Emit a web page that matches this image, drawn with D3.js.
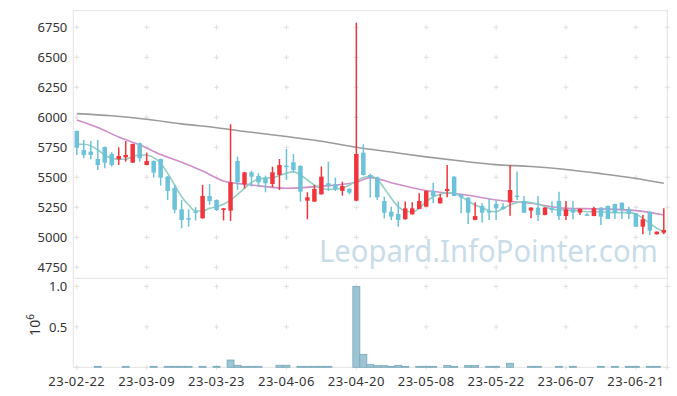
<!DOCTYPE html>
<html>
<head>
<meta charset="utf-8">
<title>Candlestick</title>
<script src="https://d3js.org/d3.v7.min.js"></script>
<style>
  body { margin: 0; background: #fff; }
  svg text { font-family: "Noto Sans", "Open Sans", sans-serif; }
</style>
</head>
<body>
<div id="chart"></div>
<script>
// trading days, 23-02-22 .. 23-06-27
const dates = [
  "23-02-22","23-02-23","23-02-24","23-02-27","23-02-28",
  "23-03-02","23-03-03","23-03-06","23-03-07","23-03-08","23-03-09","23-03-10",
  "23-03-13","23-03-14","23-03-15","23-03-16","23-03-17","23-03-20","23-03-21",
  "23-03-22","23-03-23","23-03-24","23-03-27","23-03-28","23-03-29","23-03-30","23-03-31",
  "23-04-03","23-04-04","23-04-05","23-04-06","23-04-07","23-04-10","23-04-11",
  "23-04-12","23-04-13","23-04-14","23-04-17","23-04-18","23-04-19","23-04-20",
  "23-04-21","23-04-24","23-04-25","23-04-26","23-04-27","23-04-28",
  "23-05-02","23-05-03","23-05-04","23-05-08","23-05-09","23-05-10","23-05-11",
  "23-05-12","23-05-15","23-05-16","23-05-17","23-05-18","23-05-19","23-05-22",
  "23-05-23","23-05-24","23-05-25","23-05-26","23-05-30","23-05-31",
  "23-06-01","23-06-02","23-06-05","23-06-07","23-06-08","23-06-09","23-06-12",
  "23-06-13","23-06-14","23-06-15","23-06-16","23-06-19","23-06-20","23-06-21",
  "23-06-22","23-06-23","23-06-26","23-06-27"
];

const openP = [5886,5727,5714,5652,5752,5694,5650,5667,5622,5783,5602,5636,5652,5505,5410,5233,5160,5215,5158,5344,
  5311,5227,5222,5636,5442,5541,5511,5497,5444,5519,5597,5625,5594,5305,5297,5358,5450,5441,5386,5402,
  5305,5705,5519,5500,5302,5213,5194,5150,5191,5236,5255,5386,5283,5386,5505,5352,5330,5144,5261,5219,
  5277,5255,5291,5347,5302,5222,5247,5186,5241,5302,5177,5236,5205,5191,5177,5247,5261,5277,5288,5236,
  5200,5088,5213,5025,5038];
const highP = [5890,5811,5802,5811,5755,5708,5750,5802,5780,5790,5705,5640,5655,5510,5440,5311,5233,5250,5436,5444,
  5315,5244,5942,5672,5545,5555,5533,5514,5589,5652,5736,5694,5600,5375,5436,5589,5630,5497,5463,5410,
  6788,5775,5530,5505,5338,5255,5297,5297,5291,5367,5390,5455,5361,5602,5508,5361,5333,5291,5283,5325,
  5311,5283,5602,5547,5344,5250,5344,5250,5297,5380,5302,5302,5240,5200,5255,5250,5264,5280,5290,5255,
  5203,5186,5216,5047,5241];
const lowP = [5686,5658,5650,5561,5575,5590,5602,5630,5620,5630,5600,5497,5430,5311,5200,5075,5088,5140,5155,5269,
  5220,5140,5136,5394,5408,5422,5422,5375,5417,5394,5477,5540,5297,5150,5295,5355,5386,5386,5347,5358,
  5300,5515,5330,5311,5158,5144,5088,5148,5189,5234,5253,5283,5281,5333,5342,5200,5111,5142,5122,5144,
  5144,5230,5180,5311,5203,5158,5136,5184,5205,5144,5144,5150,5186,5180,5175,5102,5152,5152,5152,5152,
  5088,5025,5019,5023,5025];
const closeP = [5747,5686,5686,5602,5622,5602,5677,5686,5777,5658,5636,5539,5497,5386,5230,5144,5152,5208,5344,5302,
  5227,5241,5458,5458,5541,5505,5458,5450,5541,5602,5589,5561,5380,5333,5402,5505,5430,5400,5427,5372,
  5694,5519,5500,5333,5205,5172,5144,5241,5241,5302,5386,5344,5330,5402,5344,5333,5205,5177,5205,5205,
  5241,5236,5394,5341,5205,5247,5186,5247,5227,5177,5233,5205,5236,5183,5241,5172,5152,5205,5233,5194,
  5088,5150,5055,5047,5061];
const volume = [0,0,0,12000,0,0,0,12000,0,0,0,12000,0,12000,12000,12000,12000,0,12000,0,
  12000,0,90000,25000,12000,12000,12000,0,0,25000,25000,0,12000,12000,12000,12000,12000,0,0,0,
  1000000,160000,34000,20000,20000,10000,25000,10000,0,12000,12000,12000,0,22000,10000,0,22000,22000,0,12000,
  12000,0,50000,0,0,12000,12000,0,0,12000,0,12000,0,0,0,12000,0,12000,0,12000,
  12000,0,12000,12000,0];

// short moving average, read at every day
const maShort = [5775,5775,5763,5727,5686,5658,5650,5650,5672,5686,5686,5664,5617,5533,5436,5338,5269,5219,5219,5241,
  5255,5275,5311,5358,5408,5458,5486,5492,5497,5514,5533,5547,5519,5477,5436,5408,5400,5402,5408,5436,
  5469,5497,5510,5483,5408,5325,5255,5219,5213,5241,5297,5338,5358,5372,5367,5338,5302,5269,5247,5219,
  5213,5241,5269,5289,5297,5289,5277,5255,5236,5227,5227,5222,5219,5213,5213,5213,5208,5205,5205,5205,
  5194,5158,5116,5075,5047];
// mid moving average, read at a few days
const maMidDays = [0,3,6,9,12,15,18,21,25,30,35,40,42,45,50,55,60,65,70,75,80,84];
const maMid = [5977,5915,5835,5770,5690,5625,5552,5469,5436,5408,5425,5458,5497,5455,5389,5358,5311,5283,5241,5236,5222,5186];
// long moving average
const maLongDays = [0,5,10,15,20,25,30,35,40,45,50,55,60,65,70,75,80,84];
const maLong = [6030,6012,5983,5945,5913,5875,5840,5800,5750,5710,5670,5635,5605,5590,5565,5530,5490,5450];

const tickDates = ["23-02-22","23-03-09","23-03-23","23-04-06","23-04-20","23-05-08","23-05-22","23-06-07","23-06-21"];
const priceTicks = [4750,5000,5250,5500,5750,6000,6250,6500,6750];
const volTicks = [500000, 1000000];

const w = 677, h = 396;
const L = 73.3, R = 667.3, T = 10.7, PB = 278.3, VB = 367.3;

const svg = d3.select("#chart").append("svg")
  .attr("width", w).attr("height", h);

const x = d3.scaleBand().domain(dates).range([L, R]).paddingInner(0.36).paddingOuter(0.18);
const xv = d3.scaleBand().domain(dates).range([L, R]).padding(0);
const cx = d => x(d) + x.bandwidth() / 2;

const y = d3.scaleLinear().domain([4658, 6888]).range([PB, T]);
const yv = d3.scaleLinear().domain([0, 1100000]).range([VB, PB]);

// frames
svg.append("rect").attr("x", L).attr("y", T).attr("width", R - L).attr("height", VB - T)
  .attr("fill", "none").attr("stroke", "#e3e3e3");
svg.append("line").attr("x1", L).attr("x2", R).attr("y1", PB).attr("y2", PB).attr("stroke", "#e3e3e3");

// grid crosses
function crosses(ys) {
  const cols = tickDates.map(cx).concat([R]);
  cols.forEach(px => ys.forEach(py => {
    svg.append("path").attr("d", `M${px - 2.5},${py}H${px + 2.5}M${px},${py - 2.5}V${py + 2.5}`)
      .attr("stroke", "#e0e0e0").attr("stroke-width", 1);
  }));
}
crosses(priceTicks.map(y));
crosses([0].concat(volTicks).map(yv));

// watermark
const wm = svg.append("text")
  .attr("font-size", 31).attr("fill", "#c9dde8")
  .text("Leopard.InfoPointer.com");
const wmLen = wm.node().getComputedTextLength();
wm.attr("transform", `translate(319,262) scale(${339 / wmLen},1)`);

// axes
const yAxis = d3.axisLeft(y).tickValues(priceTicks).tickFormat(d3.format("d")).tickSize(0).tickPadding(6);
svg.append("g").attr("transform", `translate(${L},0)`).call(yAxis)
  .call(g => g.select(".domain").remove())
  .selectAll("text").attr("font-size", 13).attr("fill", "#333").attr("font-family", null);

const yvAxis = d3.axisLeft(yv).tickValues(volTicks).tickFormat(d => (d / 1e6).toFixed(1)).tickSize(0).tickPadding(6);
svg.append("g").attr("transform", `translate(${L},0)`).call(yvAxis)
  .call(g => g.select(".domain").remove())
  .selectAll("text").attr("font-size", 13).attr("fill", "#333").attr("font-family", null);

const xAxis = d3.axisBottom(x).tickValues(tickDates).tickSize(0).tickPadding(9);
svg.append("g").attr("transform", `translate(0,${VB})`).call(xAxis)
  .call(g => g.select(".domain").remove())
  .selectAll("text").attr("font-size", 13).attr("fill", "#333").attr("font-family", null)
  .attr("letter-spacing", 0.5);

svg.append("text")
  .attr("transform", "translate(40,325) rotate(-90)")
  .attr("text-anchor", "middle").attr("font-size", 14).attr("fill", "#333")
  .text("10").append("tspan").attr("dy", -6).attr("font-size", 10).text("6");

// volume bars
svg.append("g").selectAll("rect")
  .data(dates.map((d, i) => ({ d, v: volume[i] })).filter(o => o.v > 0))
  .enter().append("rect")
  .attr("x", o => xv(o.d))
  .attr("y", o => yv(o.v))
  .attr("width", xv.bandwidth())
  .attr("height", o => VB - yv(o.v))
  .attr("fill", "#9dc4d2")
  .attr("stroke", "#78a8bb")
  .attr("stroke-width", 0.8);

// moving averages
const line = d3.line().x(p => cx(dates[p[0]])).y(p => y(p[1])).curve(d3.curveMonotoneX);
svg.append("path").datum(maLongDays.map((d, i) => [d, maLong[i]]))
  .attr("d", line).attr("fill", "none").attr("stroke", "#9b9b9b").attr("stroke-width", 1.6);
svg.append("path").datum(maMidDays.map((d, i) => [d, maMid[i]]))
  .attr("d", line).attr("fill", "none").attr("stroke", "#cf8fc9").attr("stroke-width", 1.6);
svg.append("path").datum(maShort.map((v, i) => [i, v]))
  .attr("d", line).attr("fill", "none").attr("stroke", "#93cfc2").attr("stroke-width", 1.6);

// candles
const candles = dates.map((d, i) => ({ d, o: openP[i], hi: highP[i], lo: lowP[i], c: closeP[i] }));
const col = k => k.c >= k.o ? "#f0353d" : "#6cc2d8";
const cg = svg.append("g");
cg.selectAll("line").data(candles).enter().append("line")
  .attr("x1", k => cx(k.d)).attr("x2", k => cx(k.d))
  .attr("y1", k => y(k.hi)).attr("y2", k => y(k.lo))
  .attr("stroke", col).attr("stroke-width", 1.5);
cg.selectAll("rect").data(candles).enter().append("rect")
  .attr("x", k => x(k.d))
  .attr("y", k => y(Math.max(k.o, k.c)))
  .attr("width", x.bandwidth())
  .attr("height", k => Math.max(1.5, Math.abs(y(k.o) - y(k.c))))
  .attr("fill", col);
</script>
</body>
</html>
